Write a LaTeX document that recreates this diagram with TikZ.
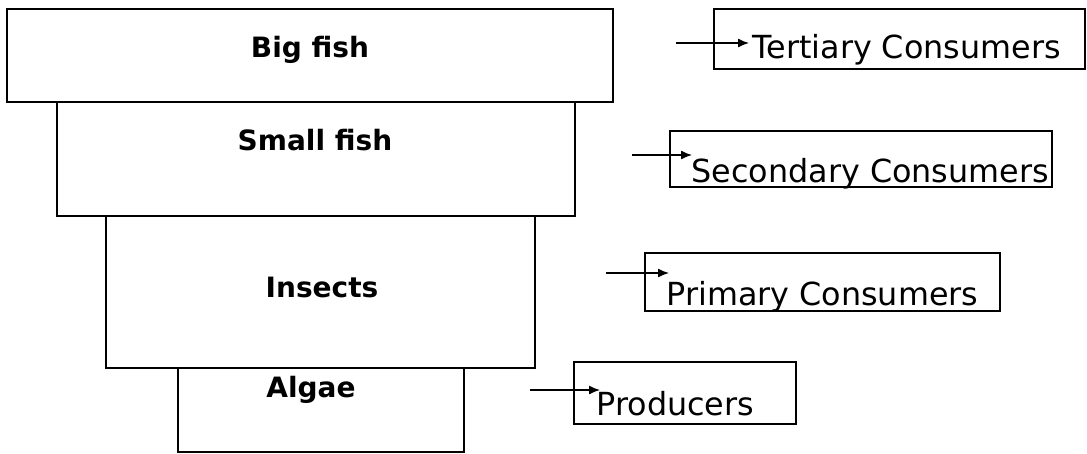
\documentclass[tikz,border=0pt]{standalone}
\usepackage{fontspec}
\setmainfont{DejaVu Sans}
\usetikzlibrary{arrows.meta}

\begin{document}
\begin{tikzpicture}[x=1pt,y=-1pt,line width=1.1pt,
    tier/.style={font=\fontsize{28}{32}\selectfont\bfseries,anchor=base,inner sep=0pt},
    role/.style={font=\fontsize{31.8}{36}\selectfont,anchor=base west,inner sep=0pt},
    toarrow/.style={-{Latex[length=11pt,width=9pt]},line width=1.3pt}]
    \useasboundingbox (0,0) rectangle (1087,453);
    % pyramid
    \draw (7,9) rectangle (613,102);
    \draw (57,102) rectangle (575,216);
    \draw (106,216) rectangle (535,368);
    \draw (178,368) rectangle (464,452);
    \node[tier] (bigfish) at (310,57) {Big fish};
    \node[tier] (smallfish) at (315,150) {Small fish};
    \node[tier] (insects) at (322,297) {Insects};
    \node[tier] (algae) at (311,397) {Algae};
    % trophic levels
    \draw (714,9) rectangle (1085,69);
    \draw (670,131) rectangle (1052,187);
    \draw (645,253) rectangle (1000,311);
    \draw (574,362) rectangle (796,424);
    \node[role] (tertiary) at (752,58) {Tertiary Consumers};
    \node[role] (secondary) at (691,182) {Secondary Consumers};
    \node[role] (primary) at (666,305) {Primary Consumers};
    \node[role] (producers) at (596,415) {Producers};
    \coordinate (t0) at (676,43);
    \coordinate (t1) at (749,43);
    \coordinate (s0) at (632,155);
    \coordinate (s1) at (692,155);
    \coordinate (p0) at (606,273);
    \coordinate (p1) at (669,273);
    \coordinate (r0) at (530,390);
    \coordinate (r1) at (600,390);
    \draw[toarrow] (t0) -- (t1);
    \draw[toarrow] (s0) -- (s1);
    \draw[toarrow] (p0) -- (p1);
    \draw[toarrow] (r0) -- (r1);
\end{tikzpicture}
\end{document}
